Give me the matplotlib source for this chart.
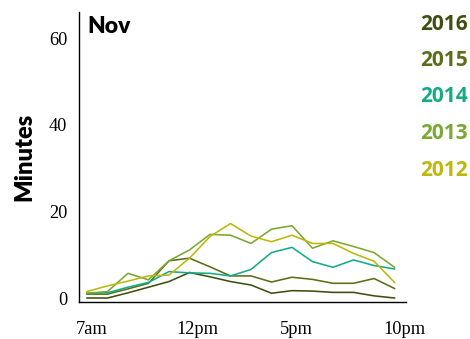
import matplotlib
matplotlib.use("Agg")
import matplotlib.pyplot as plt

hours = list(range(7, 23))
years = ["2016", "2015", "2014", "2013", "2012"]
colors = ["#3f4f12", "#5c6e18", "#14ab87", "#79a833", "#bdb80b"]

minutes = {
    "2016": [0.0, 0.0, 1.2, 2.5, 3.8, 5.9, 4.9, 3.8, 3.0, 1.1, 1.7, 1.6, 1.3, 1.3, 0.5, 0.0],
    "2015": [0.9, 0.9, 2.1, 3.4, 8.6, 9.2, 7.2, 5.1, 5.1, 3.7, 4.8, 4.3, 3.4, 3.4, 4.5, 2.2],
    "2014": [1.1, 1.2, 2.5, 3.6, 6.1, 5.8, 5.7, 5.1, 6.6, 10.5, 11.7, 8.4, 7.1, 8.8, 7.5, 6.7],
    "2013": [1.1, 1.5, 5.7, 4.2, 8.6, 11.1, 14.7, 14.5, 12.6, 15.9, 16.7, 11.5, 13.2, 11.9, 10.5, 7.1],
    "2012": [1.5, 2.8, 3.9, 5.1, 5.3, 9.2, 14.2, 17.2, 14.3, 13.0, 14.5, 12.6, 12.6, 10.3, 8.5, 3.6],
}

tick_pos = [7.25, 12.4, 17.2, 22.5]
tick_labels = ["7am", "12pm", "5pm", "10pm"]
ytick_vals = [0, 20, 40, 60]

fig = plt.figure(figsize=(4.7, 3.39), dpi=100)
ax = fig.add_axes([79 / 470, 37 / 339, 327 / 470, 290 / 339])

for yr, c in zip(years, colors):
    ax.plot(hours, minutes[yr], color=c, lw=1.15)

ax.set_xlim(6.61, 22.56)
ax.set_ylim(-0.92, 66.05)

for s in ["top", "right"]:
    ax.spines[s].set_visible(False)
ax.spines["left"].set_linewidth(1.0)
ax.spines["bottom"].set_linewidth(1.0)

ax.set_xticks(tick_pos)
ax.set_xticklabels(tick_labels, family="Liberation Serif", fontsize=13.2)
ax.set_yticks(ytick_vals)
ax.set_yticklabels([str(v) for v in ytick_vals], family="Liberation Serif", fontsize=13.2)
ax.tick_params(axis="x", length=0, pad=13.5)
ax.tick_params(axis="y", length=0, pad=8.5)

ax.set_ylabel("Minutes", family="Lato", fontweight="heavy", fontsize=17, labelpad=10)

ax.text(0.027, 0.985, "Nov", transform=ax.transAxes, family="Lato",
        fontweight="heavy", fontsize=16.5, va="top", ha="left")

leg_y = [24, 60.5, 97, 133.5, 170]
for yr, c, py in zip(years, colors, leg_y):
    fig.text(420 / 470, 1 - py / 339, yr, color=c, family="Open Sans",
             fontweight="bold", fontsize=15, va="center", ha="left")

fig.savefig("out.png", dpi=100)
